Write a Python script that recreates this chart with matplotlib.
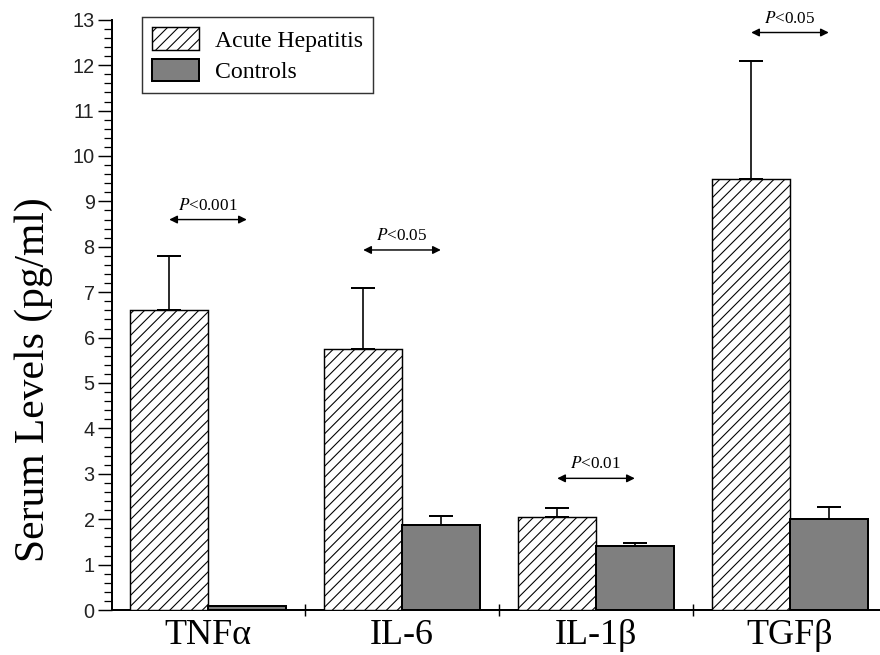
import numpy as np
import matplotlib
matplotlib.use("Agg")
import matplotlib.pyplot as plt
from matplotlib.ticker import MultipleLocator, FixedLocator

# serum cytokine levels (pg/ml), mean and upper SD
cytokines = ["TNFα", "IL-6", "IL-1β", "TGFβ"]
hepatitis = [6.6, 5.75, 2.05, 9.5]
hepatitis_err = [1.2, 1.35, 0.2, 2.6]
controls = [0.08, 1.87, 1.4, 2.0]
controls_err = [0.0, 0.2, 0.08, 0.27]
p_labels = ["<0.001", "<0.05", "<0.01", "<0.05"]
p_heights = [8.6, 7.93, 2.9, 12.72]

DPI = 130
plt.rcParams["font.family"] = ["Liberation Serif", "DejaVu Serif"]
plt.rcParams["mathtext.fontset"] = "stix"
plt.rcParams["hatch.linewidth"] = 0.6

fig = plt.figure(figsize=(880 / DPI, 655 / DPI), dpi=DPI)
ax = fig.add_axes([112 / 880, 45 / 655, 768 / 880, 590.2 / 655])

x = np.arange(len(cytokines))
w = 0.4
ax.bar(x - w / 2, hepatitis, w, facecolor="white", edgecolor="black",
       hatch="////", linewidth=0.8, label="Acute Hepatitis", zorder=3)
ax.bar(x + w / 2, controls, w, facecolor="#7f7f7f", edgecolor="black",
       linewidth=1.1, label="Controls", zorder=3)

# upward-only error bars, skipped where there is no spread
for offs, vals, errs in [(-w / 2, hepatitis, hepatitis_err), (w / 2, controls, controls_err)]:
    idx = [i for i, e in enumerate(errs) if e > 0]
    ax.errorbar(x[idx] + offs, np.array(vals)[idx],
                yerr=[np.zeros(len(idx)), np.array(errs)[idx]],
                fmt="none", ecolor="black", elinewidth=0.9, capsize=6.9,
                capthick=1.1, zorder=2)

# significance arrows between the paired bars
for xi, yp, lab in zip(x, p_heights, p_labels):
    ax.annotate("", xy=(xi + w / 2, yp), xytext=(xi - w / 2, yp),
                arrowprops=dict(arrowstyle="<|-|>", color="black", lw=0.8,
                                mutation_scale=9, shrinkA=0, shrinkB=0))
    ax.text(xi, yp + 0.13, r"$P$" + lab, ha="center", va="bottom", fontsize=9.5)

ax.set_xlim(-0.495, 3.464)
ax.set_ylim(0, 13)
ax.spines["top"].set_visible(False)
ax.spines["right"].set_visible(False)
ax.spines["left"].set_linewidth(1.1)
ax.spines["bottom"].set_linewidth(1.1)

ax.yaxis.set_major_locator(MultipleLocator(1))
ax.yaxis.set_minor_locator(MultipleLocator(0.2))
ax.tick_params(axis="y", which="major", direction="out", length=7.6, width=0.8,
               pad=2, labelsize=11, labelcolor="#222222")
ax.tick_params(axis="y", which="minor", direction="out", length=4.2, width=0.7)
for lbl in ax.get_yticklabels():
    lbl.set_family(["Liberation Sans", "DejaVu Sans"])

ax.set_xticks(x)
ax.set_xticklabels(cytokines)
ax.xaxis.set_minor_locator(FixedLocator([0.5, 1.5, 2.5]))
ax.tick_params(axis="x", which="major", length=0, pad=5, labelsize=20)
ax.tick_params(axis="x", which="minor", direction="inout", length=6.5, width=0.8)

ax.set_ylabel("Serum Levels (pg/ml)", fontsize=23)
ax.yaxis.set_label_coords(-0.077, 0.39)

leg = ax.legend(loc="upper left", bbox_to_anchor=(0.0387, 1.004), borderaxespad=0,
                fancybox=False, frameon=True, edgecolor="black", fontsize=13.2,
                handlelength=2.0, handleheight=1.05, labelspacing=0.3,
                borderpad=0.42, handletextpad=0.65)
leg.get_frame().set_linewidth(0.8)

fig.savefig("out.png", dpi=DPI, facecolor="white")
